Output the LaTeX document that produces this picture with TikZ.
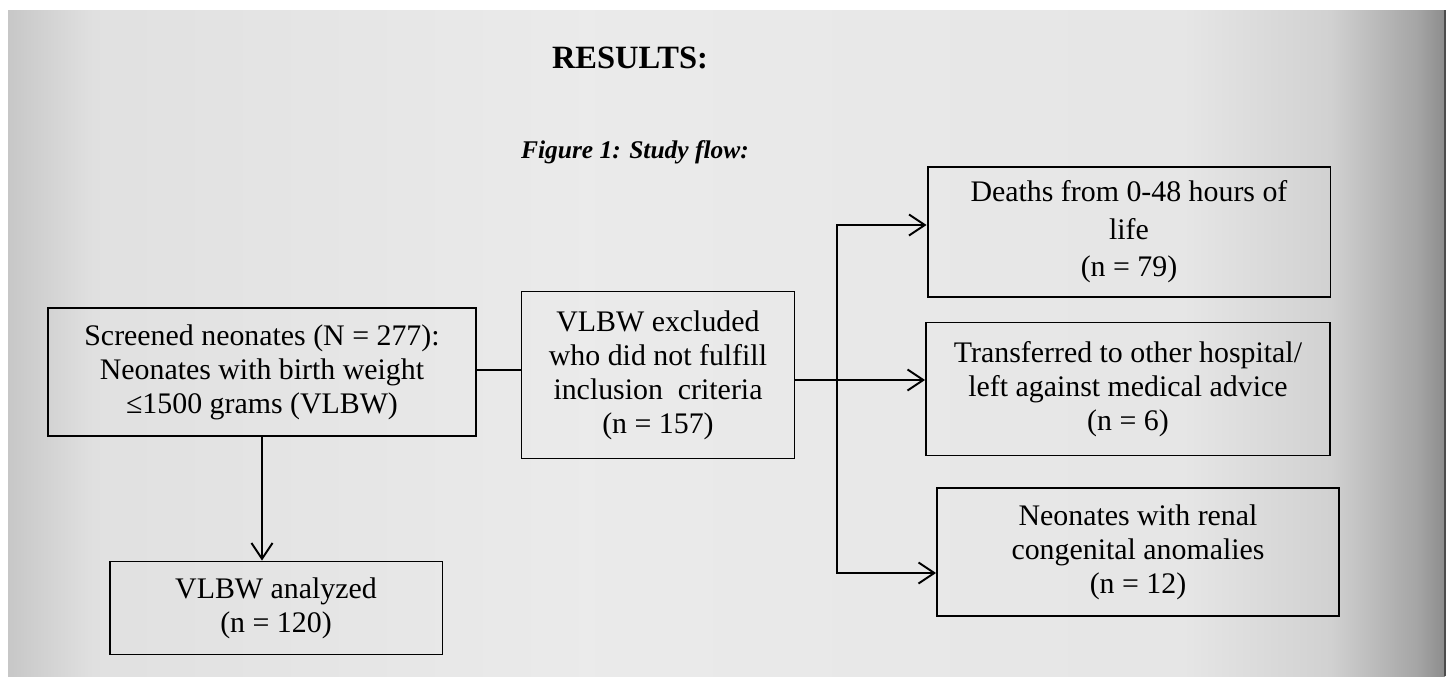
\documentclass[tikz,border=0pt]{standalone}
\usepackage{fontspec}
\setmainfont{Liberation Serif}
\usetikzlibrary{arrows.meta}
\usetikzlibrary{positioning}
\pgfdeclarehorizontalshading{paper}{100bp}{color(0bp)=(black!22); color(25bp)=(black!22); color(28bp)=(black!12); color(45bp)=(black!8); color(66bp)=(black!10); color(71bp)=(black!18); color(74bp)=(black!35); color(75bp)=(black!45); color(100bp)=(black!45)}
\tikzstyle{box}=[draw, line width=1.1pt, align=center, inner sep=0pt,
                font=\fontsize{17}{19.4}\selectfont]
\tikzstyle{line}=[draw, line width=1.1pt]
\tikzstyle{hit}=[line, -{Straight Barb[length=9pt,width=12pt,line width=1.1pt]}]
\tikzstyle{heading}=[font=\bfseries\fontsize{18.5}{20}\selectfont]

\begin{document}
\begin{tikzpicture}[x=0.02cm, y=-0.02cm]
\fill[white] (0,0) rectangle (1448,683);
\shade[shading=paper] (8,10) rectangle (1445,676);
\draw[black!70, line width=0.8pt] (1445,10) -- (1445,676);
\useasboundingbox (0,0) rectangle (1448,683);

\node[heading] (results) at (630,58) {RESULTS:};
\node[heading, font=\bfseries\itshape\fontsize{14.5}{20}\selectfont] (figtitle) at (635,152) {Figure 1: Study flow:};

% left column
\node[box, minimum width=8.58cm, minimum height=2.56cm] (screened) at (262,372)
  {Screened neonates (N = 277):\\ Neonates with birth weight\\ ≤1500 grams (VLBW)};
\node[box, minimum width=6.66cm, minimum height=1.86cm] (analyzed) at (276,608)
  {VLBW analyzed\\ (n = 120)};

% middle
\node[box, minimum width=5.46cm, minimum height=3.34cm] (excluded) at (658,375)
  {VLBW excluded\\ who did not fulfill\\ inclusion\ \ criteria\\ (n = 157)};

% right column
\node[box, minimum width=8.06cm, minimum height=2.6cm] (deaths) at (1129,232)
  {Deaths from 0-48 hours of\\[2pt] life\\[2pt] (n = 79)};
\node[box, minimum width=8.08cm, minimum height=2.66cm] (transferred) at (1128,389)
  {Transferred to other hospital/\\ left against medical advice\\ (n = 6)};
\node[box, minimum width=8.04cm, minimum height=2.56cm] (renal) at (1138,552)
  {Neonates with renal\\ congenital anomalies\\ (n = 12)};

\coordinate (split) at (837,380);

\draw[line] ([yshift=0.04cm]screened.east) -- ([yshift=0.04cm]screened.east -| excluded.west);
\draw[hit] (screened.south) -- (screened.south |- analyzed.north);
\draw[line] (excluded.east |- split) -- (split);
\draw[hit] (split) |- ([yshift=0.14cm]deaths.west);
\draw[hit] (split) -- (split -| transferred.west);
\draw[hit] (split) |- ([yshift=-0.42cm]renal.west);
\end{tikzpicture}
\end{document}
